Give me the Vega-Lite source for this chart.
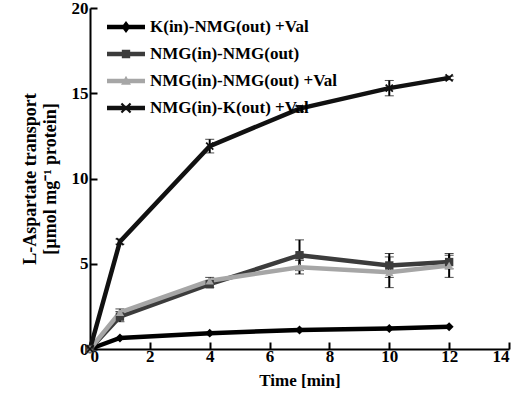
{
  "$schema": "https://vega.github.io/schema/vega-lite/v6.json",
  "autosize": "none",
  "width": 419,
  "height": 341,
  "padding": {"left": 90, "top": 8, "right": 11, "bottom": 54},
  "background": "white",
  "config": {
    "font": "Liberation Serif",
    "view": {"stroke": null},
    "axis": {
      "grid": false,
      "domainColor": "black",
      "domainWidth": 2,
      "tickColor": "black",
      "tickWidth": 2,
      "tickSize": -7,
      "labelFont": "Liberation Serif",
      "labelFontSize": 17,
      "labelFontWeight": "bold",
      "labelColor": "black",
      "titleFont": "Liberation Serif",
      "titleFontSize": 17,
      "titleFontWeight": "bold",
      "titleColor": "black"
    }
  },
  "data": {
    "values": [
      {"series": "K(in)-NMG(out) +Val", "t": 0, "v": 0},
      {"series": "K(in)-NMG(out) +Val", "t": 1, "v": 0.65},
      {"series": "K(in)-NMG(out) +Val", "t": 4, "v": 0.93},
      {"series": "K(in)-NMG(out) +Val", "t": 7, "v": 1.12},
      {"series": "K(in)-NMG(out) +Val", "t": 10, "v": 1.2},
      {"series": "K(in)-NMG(out) +Val", "t": 12, "v": 1.3},
      {"series": "NMG(in)-NMG(out)", "t": 0, "v": 0},
      {"series": "NMG(in)-NMG(out)", "t": 1, "v": 1.9, "lo": 1.6, "hi": 2.2},
      {"series": "NMG(in)-NMG(out)", "t": 4, "v": 3.8, "lo": 3.6, "hi": 4.0},
      {"series": "NMG(in)-NMG(out)", "t": 7, "v": 5.5, "lo": 4.6, "hi": 6.4},
      {"series": "NMG(in)-NMG(out)", "t": 10, "v": 4.9, "lo": 4.2, "hi": 5.6},
      {"series": "NMG(in)-NMG(out)", "t": 12, "v": 5.1, "lo": 4.7, "hi": 5.6},
      {"series": "NMG(in)-NMG(out) +Val", "t": 0, "v": 0},
      {"series": "NMG(in)-NMG(out) +Val", "t": 1, "v": 2.15, "lo": 1.95, "hi": 2.35},
      {"series": "NMG(in)-NMG(out) +Val", "t": 4, "v": 4.0, "lo": 3.8, "hi": 4.2},
      {"series": "NMG(in)-NMG(out) +Val", "t": 7, "v": 4.8, "lo": 4.4, "hi": 5.2},
      {"series": "NMG(in)-NMG(out) +Val", "t": 10, "v": 4.5, "lo": 3.6, "hi": 5.4},
      {"series": "NMG(in)-NMG(out) +Val", "t": 12, "v": 4.9, "lo": 4.2, "hi": 5.5},
      {"series": "NMG(in)-K(out) +Val", "t": 0, "v": 0},
      {"series": "NMG(in)-K(out) +Val", "t": 1, "v": 6.3, "lo": 6.15, "hi": 6.45},
      {"series": "NMG(in)-K(out) +Val", "t": 4, "v": 11.9, "lo": 11.5, "hi": 12.3},
      {"series": "NMG(in)-K(out) +Val", "t": 7, "v": 14.1, "lo": 13.95, "hi": 14.25},
      {"series": "NMG(in)-K(out) +Val", "t": 10, "v": 15.3, "lo": 14.85, "hi": 15.75},
      {"series": "NMG(in)-K(out) +Val", "t": 12, "v": 15.9, "lo": 15.8, "hi": 16.0}
    ]
  },
  "layer": [
    {
      "transform": [{"filter": "datum.lo != null"}],
      "mark": {"type": "errorbar", "ticks": {"size": 9, "color": "black", "strokeWidth": 2}, "rule": {"color": "black", "strokeWidth": 2}},
      "encoding": {
        "x": {"field": "t", "type": "quantitative", "title": "Time [min]"},
        "y": {"field": "lo", "type": "quantitative", "title": ["L-Aspartate transport", "[µmol mg⁻¹ protein]"]},
        "y2": {"field": "hi"}
      }
    },
    {
      "mark": {"type": "line", "strokeWidth": 4.5},
      "encoding": {
        "x": {"field": "t", "type": "quantitative", "scale": {"domain": [0, 14]}, "axis": {"values": [0, 2, 4, 6, 8, 10, 12, 14], "title": "Time [min]", "titlePadding": 8, "labelPadding": 6}},
        "y": {"field": "v", "type": "quantitative", "scale": {"domain": [0, 20]}, "axis": {"values": [0, 5, 10, 15, 20], "title": ["L-Aspartate transport", "[µmol mg⁻¹ protein]"], "titlePadding": 12, "titleFontSize": 18, "labelPadding": 9}},
        "color": {
          "field": "series", "type": "nominal",
          "scale": {"domain": ["K(in)-NMG(out) +Val", "NMG(in)-NMG(out)", "NMG(in)-NMG(out) +Val", "NMG(in)-K(out) +Val"], "range": ["#000000", "#3c3c3c", "#a6a6a6", "#111111"]},
          "legend": {
            "title": null, "orient": "none", "legendX": 17, "legendY": 0,
            "symbolType": "stroke", "symbolSize": 1444, "symbolStrokeWidth": 4.5, "labelLimit": 400,
            "labelFont": "Liberation Serif", "labelFontSize": 17, "labelFontWeight": "bold", "labelColor": "black",
            "rowPadding": -8.5, "labelOffset": 5, "symbolOffset": 0,
            "encode": {"symbols": {
              "update": {"shape": {"signal": "datum.value == 'K(in)-NMG(out) +Val' ? 'M-1,-0.12L1,-0.12L1,0.12L-1,0.12ZM0,-0.32L0.24,0L0,0.32L-0.24,0Z' : datum.value == 'NMG(in)-NMG(out)' ? 'M-1,-0.12L1,-0.12L1,0.12L-1,0.12ZM-0.22,-0.22L0.22,-0.22L0.22,0.22L-0.22,0.22Z' : datum.value == 'NMG(in)-NMG(out) +Val' ? 'M-1,-0.12L1,-0.12L1,0.12L-1,0.12ZM0,-0.28L0.26,0.2L-0.26,0.2Z' : 'M-1,-0.12L1,-0.12L1,0.12L-1,0.12ZM-0.28,-0.2L-0.2,-0.28L0,-0.08L0.2,-0.28L0.28,-0.2L0.08,0L0.28,0.2L0.2,0.28L0,0.08L-0.2,0.28L-0.28,0.2L-0.08,0Z'"},
                "size": {"value": 1444},
                "strokeWidth": {"value": 0},
                "fill": {"scale": "color", "field": "value"}}
            }}
          }
        }
      }
    },
    {
      "transform": [{"filter": "datum.series == 'K(in)-NMG(out) +Val'"}],
      "mark": {"type": "point", "shape": "diamond", "filled": true, "size": 80, "opacity": 1, "color": "#000000"},
      "encoding": {"x": {"field": "t", "type": "quantitative"}, "y": {"field": "v", "type": "quantitative"}}
    },
    {
      "transform": [{"filter": "datum.series == 'NMG(in)-NMG(out)'"}],
      "mark": {"type": "point", "shape": "square", "filled": true, "size": 70, "opacity": 1, "color": "#3c3c3c"},
      "encoding": {"x": {"field": "t", "type": "quantitative"}, "y": {"field": "v", "type": "quantitative"}}
    },
    {
      "transform": [{"filter": "datum.series == 'NMG(in)-NMG(out) +Val'"}],
      "mark": {"type": "point", "shape": "triangle-up", "filled": true, "size": 70, "opacity": 1, "color": "#a6a6a6"},
      "encoding": {"x": {"field": "t", "type": "quantitative"}, "y": {"field": "v", "type": "quantitative"}}
    },
    {
      "transform": [{"filter": "datum.series == 'NMG(in)-K(out) +Val'"}],
      "mark": {"type": "point", "shape": "M-1,-0.7L-0.7,-1L0,-0.3L0.7,-1L1,-0.7L0.3,0L1,0.7L0.7,1L0,0.3L-0.7,1L-1,0.7L-0.3,0Z", "filled": true, "size": 70, "opacity": 1, "color": "#111111"},
      "encoding": {"x": {"field": "t", "type": "quantitative"}, "y": {"field": "v", "type": "quantitative"}}
    }
  ]
}
